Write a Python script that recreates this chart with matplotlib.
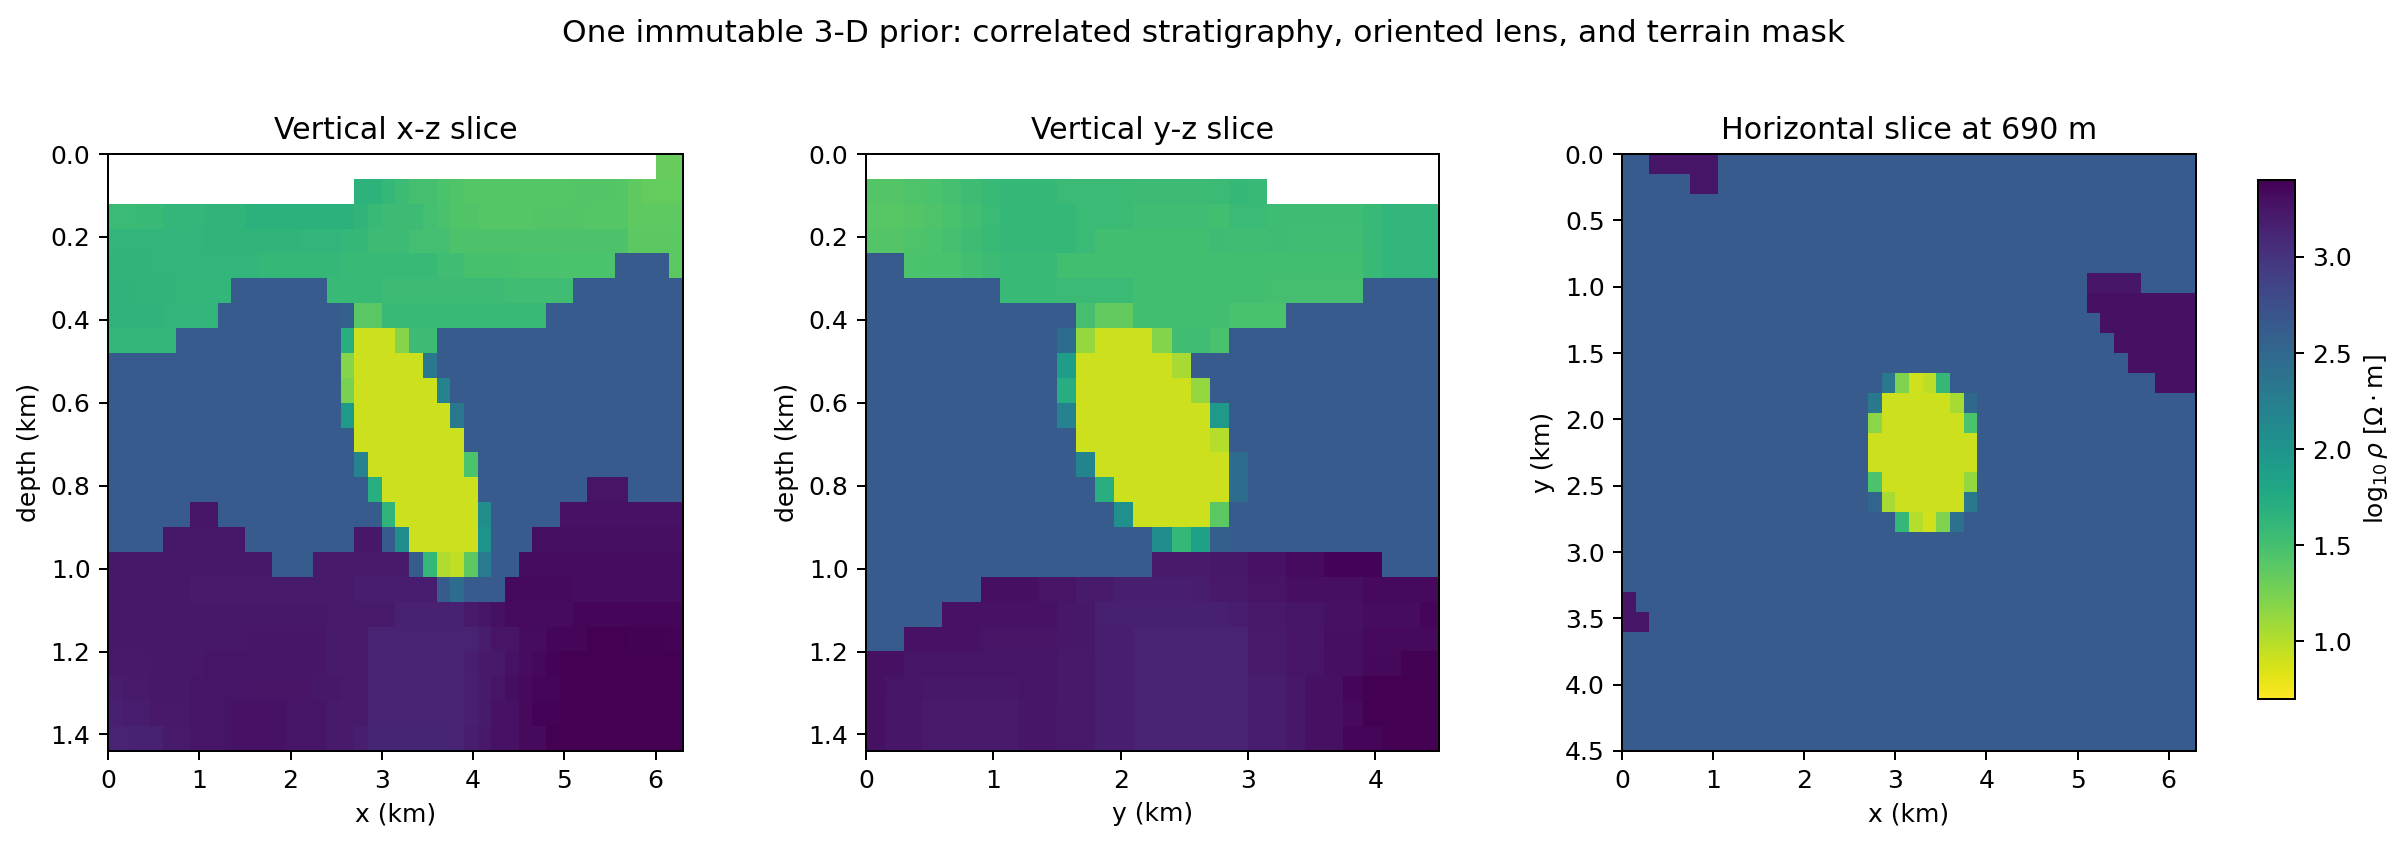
import numpy as np
import matplotlib
matplotlib.use('Agg')
import matplotlib.pyplot as plt

N = np.nan   # above the terrain
B = 2.62     # background
L = 0.91     # lens
P = 3.24
Q = 3.28

# log10 resistivity
xz_slice = [
    [N]*40 + [1.33]*2,
    [N]*18 + [1.65]*2 + [1.6] + [1.55] + [1.5]*2 + [1.46] + [1.43] + [1.41]*8 + [1.42]*3 + [1.41] + [1.37] + [1.34]*3,
    [1.56]*2 + [1.58]*2 + [1.61]*3 + [1.63]*3 + [1.66]*8 + [1.63] + [1.58] + [1.55]*3 + [1.51] + [1.48] + [1.43]*2 + [1.41]*4 + [1.42]*4 + [1.41]*3 + [1.37]*4,
    [1.62]*7 + [1.63]*7 + [1.62]*3 + [1.6]*2 + [1.55]*3 + [1.51]*3 + [1.45]*13 + [1.38]*4,
    [1.63]*3 + [1.62]*8 + [1.6]*6 + [1.57]*7 + [1.53]*2 + [1.49]*4 + [1.47]*3 + [1.46]*4 + [B]*4 + [1.38],
    [1.64]*2 + [1.63]*3 + [1.61]*4 + [B]*7 + [1.57]*4 + [1.55]*9 + [1.53]*5 + [B]*8,
    [1.64]*4 + [1.62]*4 + [B]*9 + [2.56] + [1.39]*2 + [1.57]*12 + [B]*10,
    [1.61]*5 + [B]*12 + [1.7] + [L]*3 + [1.19] + [1.55]*2 + [B]*18,
    [B]*17 + [1.19] + [L]*5 + [2.32] + [B]*18,
    [B]*17 + [1.24] + [L]*6 + [2.2] + [B]*17,
    [B]*17 + [1.94] + [L]*7 + [2.32] + [B]*16,
    [B]*18 + [L]*8 + [B]*16,
    [B]*18 + [2.2] + [L]*7 + [1.46] + [B]*15,
    [B]*19 + [1.7] + [L]*7 + [B]*8 + [3.26]*3 + [B]*4,
    [B]*6 + [3.24]*2 + [B]*12 + [1.63] + [L]*6 + [2.08] + [B]*5 + [3.27]*9,
    [B]*4 + [3.23]*6 + [B]*8 + [3.23]*2 + [B] + [2.08] + [L]*5 + [2.0] + [B]*3 + [3.3]*11,
    [3.23]*12 + [B]*3 + [3.21]*7 + [B] + [1.6] + [1.02] + [0.96] + [1.38] + [2.3] + [B]*2 + [3.31]*12,
    [3.23]*6 + [3.21]*12 + [3.18]*6 + [B] + [2.45] + [B]*3 + [3.33]*5 + [3.31]*8,
    [3.23]*16 + [3.2]*5 + [3.15]*5 + [3.2] + [3.24] + [3.28] + [3.32]*5 + [3.35]*8,
    [3.23]*10 + [3.24]*6 + [3.2]*3 + [3.14]*8 + [3.18] + [3.26]*2 + [3.31]*2 + [3.35]*3 + [3.39]*3 + [3.38]*3 + [3.37],
    [3.22]*3 + [3.23]*4 + [3.25]*4 + [3.24]*5 + [3.2]*3 + [3.14]*7 + [3.17] + [3.22]*2 + [3.27] + [3.31] + [3.34] + [3.37] + [3.4]*9,
    [3.19] + [3.2]*2 + [3.23]*3 + [3.25]*4 + [3.26]*5 + [3.23]*2 + [3.2]*2 + [3.14]*7 + [3.16] + [3.2] + [3.26] + [3.3] + [3.33] + [3.36]*2 + [3.4]*9,
    [3.16] + [3.18]*2 + [3.22]*3 + [3.25]*3 + [3.27]*4 + [3.25]*3 + [3.2]*3 + [3.13]*7 + [3.16] + [3.21] + [3.27]*2 + [3.33] + [3.37]*2 + [3.4]*9,
    [3.13]*2 + [3.15]*2 + [3.2]*2 + [3.25]*3 + [3.27]*4 + [3.25]*3 + [3.2]*2 + [3.17] + [3.12]*6 + [3.14] + [3.18] + [3.22] + [3.27]*2 + [3.33]*2 + [3.4]*10,
]

yz_slice = [
    [N]*30,
    [1.42]*2 + [1.44] + [1.46] + [1.5] + [1.54] + [1.58] + [1.6]*3 + [1.56]*4 + [1.55]*4 + [1.56] + [1.6] + [1.58] + [N]*9,
    [1.4]*2 + [1.42] + [1.44] + [1.48] + [1.52] + [1.56] + [1.6]*4 + [1.56]*3 + [1.53]*4 + [1.52] + [1.56]*2 + [1.54]*5 + [1.57] + [1.62]*3,
    [1.42]*2 + [1.44] + [1.46] + [1.5] + [1.54] + [1.58] + [1.6]*4 + [1.56] + [1.52]*6 + [1.54] + [1.53]*2 + [1.54] + [1.53]*4 + [1.57] + [1.62]*3,
    [B]*2 + [1.46] + [1.48]*2 + [1.52] + [1.55] + [1.58]*3 + [1.52]*16 + [1.57] + [1.62]*3,
    [B]*7 + [1.57]*3 + [1.56]*4 + [1.52]*7 + [1.5]*5 + [B]*4,
    [B]*11 + [1.5] + [1.35]*2 + [1.52]*5 + [1.47]*3 + [B]*8,
    [B]*10 + [2.45] + [1.13] + [L]*3 + [1.2] + [1.53]*2 + [1.48] + [B]*11,
    [B]*10 + [1.9] + [L]*5 + [1.05] + [B]*13,
    [B]*10 + [1.72] + [L]*6 + [1.13] + [B]*12,
    [B]*10 + [2.2] + [L]*7 + [1.94] + [B]*11,
    [B]*11 + [L]*7 + [1.0] + [B]*11,
    [B]*11 + [2.18] + [L]*7 + [2.45] + [B]*10,
    [B]*12 + [1.7] + [L]*6 + [2.45] + [B]*10,
    [B]*13 + [2.05] + [L]*4 + [1.38] + [B]*11,
    [B]*15 + [2.08] + [1.6] + [1.85] + [2.58] + [B]*11,
    [B]*15 + [3.21]*3 + [3.23]*2 + [3.27]*2 + [3.32]*2 + [3.37]*3 + [B]*3,
    [B]*6 + [3.29]*3 + [3.26]*2 + [3.21]*2 + [3.17]*4 + [3.19] + [3.22]*2 + [3.26]*2 + [3.29]*4 + [3.33]*4,
    [B]*4 + [3.27]*6 + [3.23]*2 + [3.16]*7 + [3.19] + [3.22]*2 + [3.25]*2 + [3.28]*2 + [3.31]*3 + [3.35],
    [B]*2 + [3.27]*4 + [3.26]*4 + [3.23]*2 + [3.17]*2 + [3.13]*6 + [3.2]*2 + [3.24]*2 + [3.29]*2 + [3.33]*4,
    [3.28]*2 + [3.25]*8 + [3.22]*2 + [3.17]*2 + [3.14]*6 + [3.2]*2 + [3.25]*2 + [3.29]*2 + [3.34]*2 + [3.38]*2,
    [3.28] + [3.25]*2 + [3.23]*5 + [3.25]*2 + [3.22]*2 + [3.17]*2 + [3.14]*6 + [3.18]*2 + [3.23] + [3.28]*2 + [3.35] + [3.4]*4,
    [3.28] + [3.24]*2 + [3.21]*5 + [3.24]*2 + [3.22]*2 + [3.17]*2 + [3.13]*6 + [3.18]*2 + [3.23] + [3.28]*2 + [3.33] + [3.4]*4,
    [3.28] + [3.24]*2 + [3.2]*3 + [3.21]*2 + [3.24]*2 + [3.22]*2 + [3.17]*2 + [3.13]*6 + [3.18]*2 + [3.23] + [3.28]*2 + [3.35]*2 + [3.4]*3,
]

xy_slice = [
    [B]*2 + [P]*5 + [B]*35,
    [B]*5 + [P]*2 + [B]*35,
    [B]*42,
    [B]*42,
    [B]*42,
    [B]*42,
    [B]*34 + [P]*4 + [B]*4,
    [B]*34 + [Q]*8,
    [B]*35 + [Q]*7,
    [B]*36 + [Q]*6,
    [B]*37 + [Q]*5,
    [B]*19 + [2.32, 1.22, 0.9, 0.97, 1.6] + [B]*15 + [Q]*3,
    [B]*18 + [2.32] + [L]*5 + [1.05] + [2.5] + [B]*16,
    [B]*18 + [1.17] + [L]*6 + [1.46] + [B]*16,
    [B]*18 + [L]*8 + [B]*16,
    [B]*18 + [L]*8 + [B]*16,
    [B]*18 + [1.46] + [L]*6 + [1.13] + [B]*16,
    [B]*18 + [2.52] + [1.05] + [L]*5 + [2.32] + [B]*16,
    [B]*20 + [1.6, 1.0, 0.9, 1.22, 2.38] + [B]*17,
    [B]*42,
    [B]*42,
    [B]*42,
    [P] + [B]*41,
    [P]*2 + [B]*40,
    [B]*42,
    [B]*42,
    [B]*42,
    [B]*42,
    [B]*42,
    [B]*42,
]

W, H = 2408, 845
DPI = 180
fig = plt.figure(figsize=(W / DPI, H / DPI), dpi=DPI)

def px_axes(left, top, right, bottom):
    return fig.add_axes([left / W, 1 - bottom / H, (right - left) / W, (bottom - top) / H])

def show(ax, data, extent, title, xlabel, ylabel):
    im = ax.imshow(np.array(data), extent=extent, aspect='auto', cmap='viridis_r',
                   vmin=0.7, vmax=3.4, interpolation='nearest')
    ax.set_title(title, fontsize=12)
    ax.set_xlabel(xlabel, fontsize=10)
    ax.set_ylabel(ylabel, fontsize=10)
    return im

ax1 = px_axes(108, 154, 683, 751)
show(ax1, xz_slice, [0, 6.3, 1.44, 0], 'Vertical x-z slice', 'x (km)', 'depth (km)')
ax2 = px_axes(866, 154, 1439, 751)
show(ax2, yz_slice, [0, 4.5, 1.44, 0], 'Vertical y-z slice', 'y (km)', 'depth (km)')
ax3 = px_axes(1622, 154, 2196, 751)
im = show(ax3, xy_slice, [0, 6.3, 4.5, 0], 'Horizontal slice at 690 m', 'x (km)', 'y (km)')

cax = px_axes(2258, 180, 2295, 699)
cbar = fig.colorbar(im, cax=cax)
cbar.set_label(r'$\log_{10}\rho$ [$\Omega\cdot$m]', fontsize=10)

fig.suptitle('One immutable 3-D prior: correlated stratigraphy, oriented lens, and terrain mask',
             fontsize=12.5, y=0.977)
fig.savefig('out.png', dpi=DPI)
